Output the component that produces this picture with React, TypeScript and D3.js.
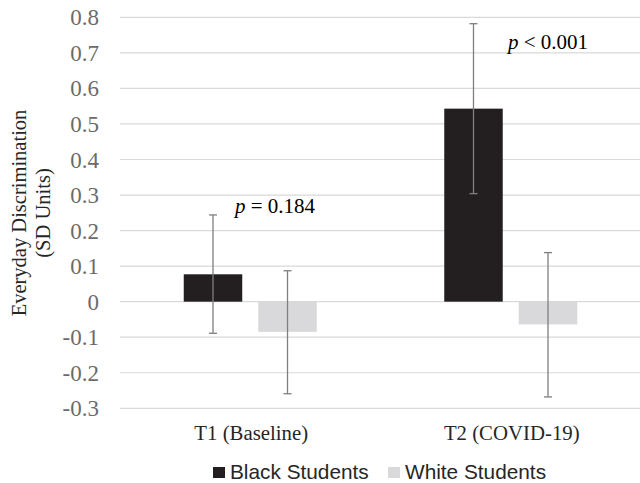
import React from 'react'
import * as d3 from 'd3'

const periods = ['T1 (Baseline)', 'T2 (COVID-19)']
const groups = ['Black Students', 'White Students']
const blackMeans = [0.077, 0.543]
const whiteMeans = [-0.085, -0.064]
const blackUpper = [0.244, 0.782]
const blackLower = [-0.089, 0.304]
const whiteUpper = [0.087, 0.138]
const whiteLower = [-0.259, -0.268]
const pLabels = ['= 0.184', '< 0.001']
const yTicks = [-0.3, -0.2, -0.1, 0, 0.1, 0.2, 0.3, 0.4, 0.5, 0.6, 0.7, 0.8]

const colors = ['#231f20', '#d9d9db']
const serif = '"Liberation Serif", "Times New Roman", serif'

export default function App() {
  const width = 640, height = 483
  const left = 120, right = 641, top = 17.3, bottom = 408.3

  const y = d3.scaleLinear().domain([-0.3, 0.8]).range([bottom, top])
  const x = d3.scaleBand().domain(periods).range([left, right]).padding(0)
  const groupW = 133
  const inner = d3.scaleBand().domain(groups).range([0, groupW]).paddingInner(0.215).paddingOuter(0)
  const offset = (x.bandwidth() - groupW) / 2

  const series = [
    { name: groups[0], means: blackMeans, up: blackUpper, lo: blackLower, color: colors[0] },
    { name: groups[1], means: whiteMeans, up: whiteUpper, lo: whiteLower, color: colors[1] },
  ]

  // excel style labels: plain hyphen for negatives
  const fmt = (v: number) => (v === 0 ? '0' : v.toFixed(1))

  return (
    <svg width={width} height={height} style={{ position: 'absolute', left: 0, top: 0, background: '#fff' }}>
      {/* grid */}
      {yTicks.map(t => (
        <g key={t}>
          <line x1={left} x2={right} y1={y(t)} y2={y(t)} stroke="#d9d9d9" strokeWidth={1.2} />
          <text x={99} y={y(t)} dy="0.35em" textAnchor="end" fontFamily={serif} fontSize={23} fill="#6b6b6b">{fmt(t)}</text>
        </g>
      ))}

      {/* bars */}
      {series.map(s => periods.map((p, i) => {
        const bx = (x(p) as number) + offset + (inner(s.name) as number)
        const v = s.means[i]
        return (
          <rect key={s.name + p} x={bx} width={inner.bandwidth()} y={y(Math.max(0, v))}
            height={Math.abs(y(v) - y(0))} fill={s.color} />
        )
      }))}

      {/* error bars */}
      {series.map(s => periods.map((p, i) => {
        const cx = (x(p) as number) + offset + (inner(s.name) as number) + inner.bandwidth() / 2
        return (
          <g key={'e' + s.name + p} stroke="#7f7f7f" strokeWidth={1.3}>
            <line x1={cx} x2={cx} y1={y(s.up[i])} y2={y(s.lo[i])} />
            <line x1={cx - 4} x2={cx + 4} y1={y(s.up[i])} y2={y(s.up[i])} />
            <line x1={cx - 4} x2={cx + 4} y1={y(s.lo[i])} y2={y(s.lo[i])} />
          </g>
        )
      }))}

      {/* p values */}
      <text x={235} y={y(0.249)} fontFamily={serif} fontSize={21} fill="#000">
        <tspan fontStyle="italic">p</tspan> {pLabels[0]}
      </text>
      <text x={508} y={y(0.71)} fontFamily={serif} fontSize={21} fill="#000">
        <tspan fontStyle="italic">p</tspan> {pLabels[1]}
      </text>

      {/* x labels */}
      {periods.map(p => (
        <text key={p} x={(x(p) as number) + x.bandwidth() / 2 + 1} y={440} textAnchor="middle"
          fontFamily={serif} fontSize={20.8} fill="#262626">{p}</text>
      ))}

      {/* y title */}
      <g transform="translate(26,213) rotate(-90)" fontFamily={serif} fontSize={20.5} fill="#262626" textAnchor="middle">
        <text x={0} y={0}>Everyday Discrimination</text>
        <text x={0} y={24}>(SD Units)</text>
      </g>

      {/* legend */}
      {groups.map((g, i) => {
        const lx = i === 0 ? 213 : 388
        return (
          <g key={g}>
            <rect x={lx} y={467} width={12} height={11} fill={colors[i]} />
            <text x={lx + 17} y={479} fontFamily='"Liberation Sans", Arial, sans-serif' fontSize={20.8} fill="#262626">{g}</text>
          </g>
        )
      })}
    </svg>
  )
}
